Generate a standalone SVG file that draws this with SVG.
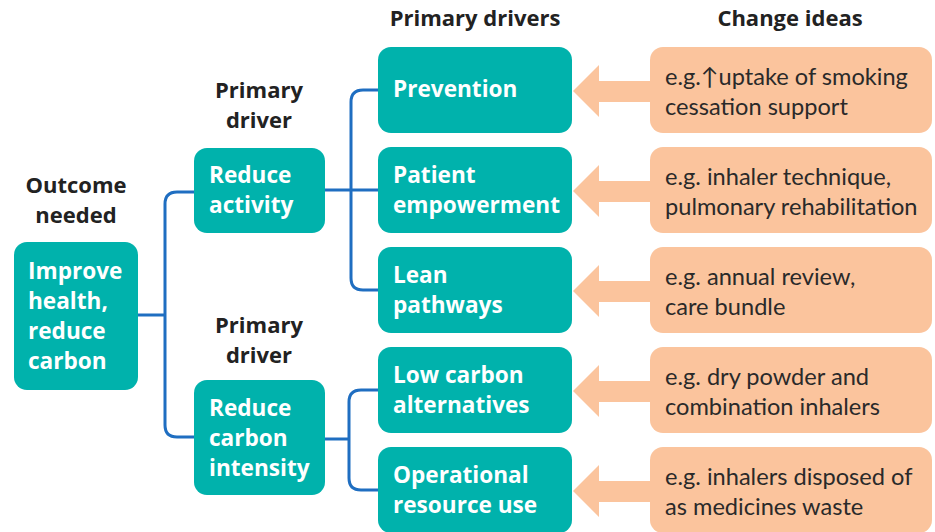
<svg xmlns="http://www.w3.org/2000/svg" width="935" height="532" viewBox="0 0 935 532">
  <style>
    .box { fill: #00B2AC; }
    .idea { fill: #FBC49D; }
    .arrow { fill: #FBC49D; }
    .lbl { font-family: "Open Sans", "Liberation Sans", sans-serif; font-weight: 700; font-size: 22.6px; fill: #ffffff; }
    .hdr { font-family: "Open Sans", "Liberation Sans", sans-serif; font-weight: 700; font-size: 22px; fill: #222222; text-anchor: middle; }
    .txt { font-family: "Lato", "Liberation Sans", sans-serif; font-weight: 400; font-size: 23.6px; fill: #2a2a2a; }
    .conn { fill: none; stroke: #1F6EC1; stroke-width: 3; }
  </style>
  <rect width="935" height="532" fill="#ffffff"/>

  <!-- column headings -->
  <g id="headings">
    <text class="hdr" x="76" y="193">Outcome</text>
    <text class="hdr" x="76" y="223">needed</text>
    <text class="hdr" x="259" y="98">Primary</text>
    <text class="hdr" x="259" y="128">driver</text>
    <text class="hdr" x="259" y="333">Primary</text>
    <text class="hdr" x="259" y="363">driver</text>
    <text class="hdr" x="475" y="26">Primary drivers</text>
    <text class="hdr" x="790" y="26">Change ideas</text>
  </g>

  <!-- tree connectors -->
  <g id="connectors">
    <path class="conn" d="M138,315 H165"/>
    <path class="conn" d="M194,192 H177 Q165,192 165,204 V425 Q165,437 177,437 H194"/>
    <path class="conn" d="M325,190 H378"/>
    <path class="conn" d="M378,90 H363 Q351,90 351,102 V278 Q351,290 363,290 H378"/>
    <path class="conn" d="M325,439 H349"/>
    <path class="conn" d="M378,390 H361 Q349,390 349,402 V478 Q349,490 361,490 H378"/>
  </g>

  <!-- change idea arrows -->
  <g id="arrows">
    <polygon class="arrow" points="573,91 599,65 599,81 652,81 652,102 599,102 599,117"/>
    <polygon class="arrow" points="573,191 599,165 599,181 652,181 652,202 599,202 599,217"/>
    <polygon class="arrow" points="573,291 599,265 599,281 652,281 652,302 599,302 599,317"/>
    <polygon class="arrow" points="573,391 599,365 599,381 652,381 652,402 599,402 599,417"/>
    <polygon class="arrow" points="573,491 599,465 599,481 652,481 652,502 599,502 599,517"/>
  </g>

  <g id="outcome">
    <rect class="box" x="14" y="242" width="124" height="148" rx="13"/>
    <text class="lbl" x="28" y="279">Improve</text>
    <text class="lbl" x="28" y="309">health,</text>
    <text class="lbl" x="28" y="339">reduce</text>
    <text class="lbl" x="28" y="369">carbon</text>
  </g>

  <g id="reduce-activity">
    <rect class="box" x="194" y="148" width="131" height="85" rx="13"/>
    <text class="lbl" x="209" y="183">Reduce</text>
    <text class="lbl" x="209" y="213">activity</text>
  </g>

  <g id="reduce-carbon-intensity">
    <rect class="box" x="194" y="380" width="131" height="115" rx="13"/>
    <text class="lbl" x="209" y="416">Reduce</text>
    <text class="lbl" x="209" y="446">carbon</text>
    <text class="lbl" x="209" y="476">intensity</text>
  </g>

  <g id="prevention">
    <rect class="box" x="378" y="47" width="194" height="86" rx="13"/>
    <text class="lbl" x="393" y="97">Prevention</text>
  </g>

  <g id="patient-empowerment">
    <rect class="box" x="378" y="147" width="194" height="86" rx="13"/>
    <text class="lbl" x="393" y="183">Patient</text>
    <text class="lbl" x="393" y="213">empowerment</text>
  </g>

  <g id="lean-pathways">
    <rect class="box" x="378" y="247" width="194" height="86" rx="13"/>
    <text class="lbl" x="393" y="283">Lean</text>
    <text class="lbl" x="393" y="313">pathways</text>
  </g>

  <g id="low-carbon-alternatives">
    <rect class="box" x="378" y="347" width="194" height="86" rx="13"/>
    <text class="lbl" x="393" y="383">Low carbon</text>
    <text class="lbl" x="393" y="413">alternatives</text>
  </g>

  <g id="operational-resource-use">
    <rect class="box" x="378" y="447" width="194" height="86" rx="13"/>
    <text class="lbl" x="393" y="483">Operational</text>
    <text class="lbl" x="393" y="513">resource use</text>
  </g>

  <g id="idea-smoking">
    <rect class="idea" x="650" y="47" width="282" height="86" rx="13"/>
    <text class="txt" x="665" y="85">e.g.↑uptake of smoking</text>
    <text class="txt" x="665" y="115">cessation support</text>
  </g>

  <g id="idea-inhaler-technique">
    <rect class="idea" x="650" y="147" width="282" height="86" rx="13"/>
    <text class="txt" x="665" y="185">e.g. inhaler technique,</text>
    <text class="txt" x="665" y="215">pulmonary rehabilitation</text>
  </g>

  <g id="idea-annual-review">
    <rect class="idea" x="650" y="247" width="282" height="86" rx="13"/>
    <text class="txt" x="665" y="285">e.g. annual review,</text>
    <text class="txt" x="665" y="315">care bundle</text>
  </g>

  <g id="idea-dry-powder">
    <rect class="idea" x="650" y="347" width="282" height="86" rx="13"/>
    <text class="txt" x="665" y="385">e.g. dry powder and</text>
    <text class="txt" x="665" y="415">combination inhalers</text>
  </g>

  <g id="idea-disposal">
    <rect class="idea" x="650" y="447" width="282" height="86" rx="13"/>
    <text class="txt" x="665" y="485">e.g. inhalers disposed of</text>
    <text class="txt" x="665" y="515">as medicines waste</text>
  </g>
</svg>
